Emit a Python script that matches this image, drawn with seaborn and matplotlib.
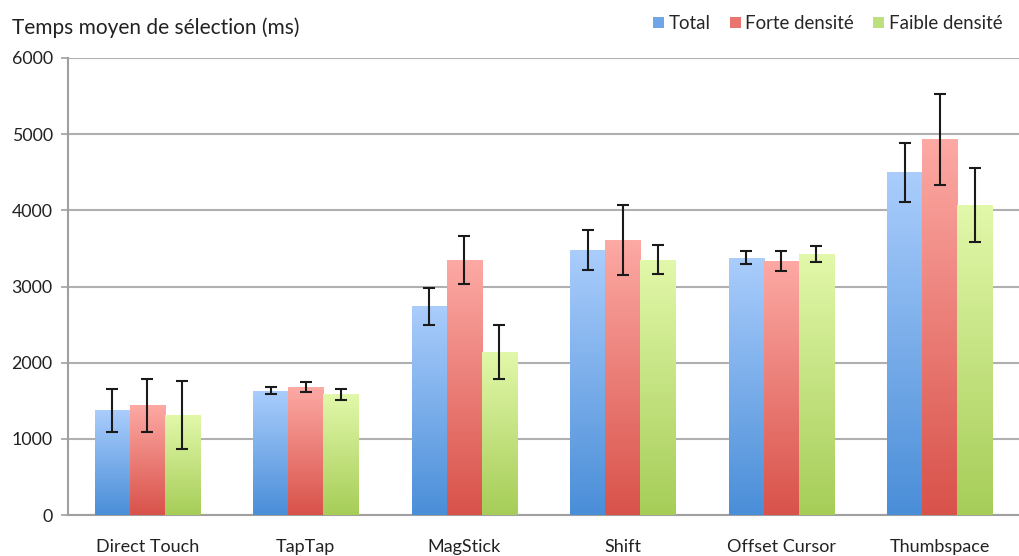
import numpy as np
import pandas as pd
import seaborn as sns
import matplotlib.pyplot as plt
from matplotlib.patches import Patch
from matplotlib.colors import LinearSegmentedColormap

# values
techniques = ['Direct Touch', 'TapTap', 'MagStick', 'Shift', 'Offset Cursor', 'Thumbspace']
series = ['Total', 'Forte densité', 'Faible densité']
total = [1375, 1630, 2740, 3480, 3375, 4500]
forte = [1440, 1678, 3345, 3606, 3330, 4935]
faible = [1310, 1585, 2136, 3350, 3425, 4066]
err_total = [282, 46, 245, 260, 85, 390]
err_forte = [346, 64, 318, 458, 130, 598]
err_faible = [446, 70, 355, 190, 105, 485]
yticks = [0, 1000, 2000, 3000, 4000, 5000, 6000]

# top / bottom colours of the gradient bars
top_cols = ['#aacdfc', '#fda9a4', '#e2f8aa']
bot_cols = ['#4a8ed8', '#d8524a', '#a6cd58']

df = pd.DataFrame({
    'technique': techniques * 3,
    'serie': [s for s in series for _ in techniques],
    'temps': total + forte + faible,
})
errs = [err_total, err_forte, err_faible]

sns.set_style('white')
plt.rcParams['font.family'] = ['Lato', 'DejaVu Sans']

fig = plt.figure(figsize=(10.19, 5.56), dpi=100)
ax = fig.add_axes([0.0667, 0.0737, 0.9333, 0.822])

sns.barplot(data=df, x='technique', y='temps', hue='serie', order=techniques,
            hue_order=series, palette=bot_cols, width=0.665, errorbar=None,
            saturation=1, ax=ax, legend=False, zorder=3)

# gradient fill + error bars
bar_conts = list(ax.containers)
for i, cont in enumerate(bar_conts):
    cmap = LinearSegmentedColormap.from_list('g%d' % i, [bot_cols[i], top_cols[i]])
    grad = np.linspace(0, 1, 256).reshape(-1, 1)
    xs = []
    for p in cont.patches:
        x0, w, h = p.get_x(), p.get_width(), p.get_height()
        im = ax.imshow(grad, cmap=cmap, aspect='auto', origin='lower',
                       extent=[x0, x0 + w, 0, h], zorder=3)
        im.set_clip_path(p)
        p.set_facecolor('none')
        p.set_edgecolor('none')
        xs.append(x0 + w / 2)
    vals = [p.get_height() for p in cont.patches]
    ax.errorbar(xs, vals, yerr=errs[i], fmt='none', ecolor='#1a1a1a',
                elinewidth=1.5, capsize=4, capthick=1.5, zorder=5)

ax.set_xlim(-0.5, len(techniques) - 0.5)
ax.set_ylim(0, 6000)
ax.set_aspect('auto')
ax.set_yticks(yticks)
ax.set_yticklabels([str(t) for t in yticks], fontsize=12.8, color='#222222')
ax.yaxis.grid(True, color='#b0b0b0', linewidth=1.5, zorder=0)
ax.set_axisbelow(True)

ax.set_xticks(range(len(techniques)))
ax.set_xticklabels(techniques, fontsize=13, color='#222222')
ax.tick_params(axis='x', which='major', length=0, pad=17)
ax.set_xticks(np.arange(-0.5, len(techniques)), minor=True)
ax.tick_params(axis='x', which='minor', length=5, width=1.2, color='#a0a0a0', direction='out')
ax.tick_params(axis='y', length=5, width=1.2, color='#a0a0a0', direction='out', pad=6, left=True)

for s in ['top', 'right']:
    ax.spines[s].set_visible(False)
for s in ['left', 'bottom']:
    ax.spines[s].set_color('#a0a0a0')
    ax.spines[s].set_linewidth(1.5)
ax.set_xlabel('')
ax.set_ylabel('')

fig.text(0.012, 0.95, 'Temps moyen de sélection (ms)', fontsize=15,
         ha='left', va='center', color='#222222')

handles = [Patch(facecolor=c, edgecolor='none') for c in ['#6ea6e8', '#e9756e', '#bde07e']]
fig.legend(handles, series, loc='center right', bbox_to_anchor=(1.0, 0.957),
           ncol=3, frameon=False, fontsize=13.4, handlelength=0.6, handleheight=0.55,
           handletextpad=0.25, columnspacing=1.0)

fig.savefig('out.png', dpi=100)
